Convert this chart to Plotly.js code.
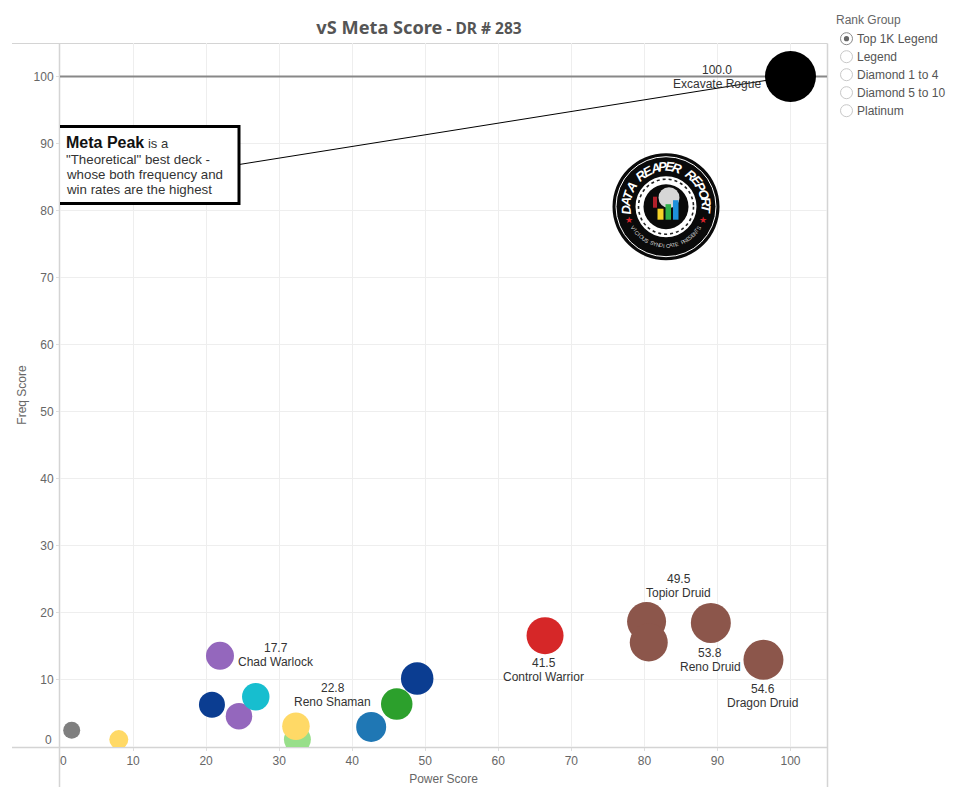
<!DOCTYPE html>
<html>
<head>
<meta charset="utf-8">
<script src="https://cdn.plot.ly/plotly-3.0.1.min.js"></script>
<style>html,body{margin:0;padding:0;background:#fff}#chart{width:959px;height:803px}</style>
</head>
<body>
<div id="chart"></div>
<script>
// ---- Data ----
const powerScore = [1.6, 8.05, 21.9, 20.8, 24.5, 26.8, 32.5, 32.3, 42.6, 46.1, 48.9, 66.4, 80.3, 80.6, 89.1, 96.3, 100];
const freqScore  = [2.5, 1.1, 13.6, 6.3, 4.6, 7.5, 1.1, 3.1, 3.0, 6.4, 10.2, 16.6, 18.7, 15.6, 18.5, 13.0, 100];
const bubbleSize = [17, 19, 28, 26, 26.5, 27.5, 27, 27.5, 30, 31.5, 32.5, 37, 39, 38, 40, 40, 51];
const bubbleColor = ['#7f7f7f','#ffd966','#9467bd','#0b3d91','#9467bd','#17becf','#98df8a','#ffd966','#1f77b4','#2ca02c','#0b3d91','#d62728','#8c564b','#8c564b','#8c564b','#8c564b','#000000'];
const peakLineX = [0, 105];
const peakLineY = [100, 100];
const labelIndex = [2, 7, 11, 12, 14, 15, 16];
const labelValue = ['17.7','22.8','41.5','49.5','53.8','54.6','100.0'];
const labelName  = ['Chad Warlock','Reno Shaman','Control Warrior','Topior Druid','Reno Druid','Dragon Druid','Excavate Rogue'];
const labelDx = [56.4, 37, -1.3, 32, -0.7, -0.6, -73];
const labelDy = [-0.6, -31, 34.7, -36, 36.7, 36.3, 0];
const tickValues = [10,20,30,40,50,60,70,80,90,100];
const rankGroups = ['Top 1K Legend','Legend','Diamond 1 to 4','Diamond 5 to 10','Platinum'];
const logoTop = 'DATA REAPER REPORT';
const logoBottom = 'VICIOUS SYNDICATE PRESENTS';

// ---- Layout helpers ----
const W = 959, H = 803;
const M = {l:60, r:132, t:43, b:56};
const PW = W - M.l - M.r, PH = H - M.t - M.b;
const px = x => (x - M.l) / PW;
const py = y => 1 - (y - M.t) / PH;
const FONT = '"Liberation Sans", Arial, sans-serif';
const annotations = [];
const shapes = [];

function pxText(x, y, text, size, color, opts) {
  annotations.push(Object.assign({
    xref:'paper', yref:'paper', x:px(x), y:py(y), text:text, showarrow:false,
    xanchor:'left', yanchor:'middle', borderpad:0,
    font:{family:FONT, size:size, color:color}
  }, opts || {}));
}
function pxLine(x0,y0,x1,y1,color,width,layer){
  shapes.push({type:'line',xref:'paper',yref:'paper',x0:px(x0),y0:py(y0),x1:px(x1),y1:py(y1),
    line:{color:color,width:width},layer:layer||'below'});
}
function pxCircle(cx,cy,r,fill,lineColor,lineWidth,dash){
  shapes.push({type:'circle',xref:'paper',yref:'paper',x0:px(cx-r),x1:px(cx+r),y0:py(cy+r),y1:py(cy-r),
    fillcolor:fill,line:{color:lineColor||fill,width:lineWidth===undefined?0:lineWidth,dash:dash||'solid'},layer:'above'});
}
function pxRect(x0,y0,x1,y1,fill){
  shapes.push({type:'rect',xref:'paper',yref:'paper',x0:px(x0),x1:px(x1),y0:py(y1),y1:py(y0),
    fillcolor:fill,line:{color:fill,width:0},layer:'above'});
}

// ---- Frame lines ----
pxLine(12, 43.5, 827.5, 43.5, '#d4d4d4', 1);
pxLine(12, 747.5, 827.5, 747.5, '#d4d4d4', 1.5);
pxLine(59.5, 43.5, 59.5, 787, '#d4d4d4', 1.5);
pxLine(827.5, 43.5, 827.5, 787, '#d4d4d4', 1.5);

// ---- Zero tick labels sit beside the axes ----
pxText(63, 761, '0', 12, '#666', {xanchor:'center'});
pxText(53, 740, '0', 12, '#666', {xanchor:'right'});

// ---- Leader from the callout to the peak ----
shapes.push({type:'line',xref:'paper',yref:'y',x0:px(240),x1:px(790.5),y0:86.9,y1:100,line:{color:'#000',width:1},layer:'above'});

// ---- Callout box ----
pxRect(60.5, 126.5, 239, 203.5, '#ffffff');
pxLine(60, 126.5, 240, 126.5, '#000', 3, 'above');
pxLine(60, 203.5, 240, 203.5, '#000', 3, 'above');
pxLine(239, 125, 239, 205, '#000', 3, 'above');
pxText(65, 142.5, '<b>Meta Peak</b><span style="font-size:13px;color:#333"> is a</span>', 16, '#111');
pxText(65, 159, '"Theoretical" best deck -', 13.3, '#333');
pxText(65, 174.5, 'whose both frequency and', 13.3, '#333');
pxText(65, 189.5, 'win rates are the highest', 13.3, '#333');

// ---- Deck labels ----
labelIndex.forEach((idx, i) => {
  [[labelValue[i], -7], [labelName[i], 7]].forEach(([t, off]) => {
    annotations.push({xref:'x',yref:'y',x:powerScore[idx],y:freqScore[idx],text:t,showarrow:false,
      xanchor:'center',yanchor:'middle',xshift:labelDx[i],yshift:-(labelDy[i]+off),
      font:{family:FONT,size:12,color:'#333'}});
  });
});

// ---- Rank group radio list ----
pxText(835, 20, 'Rank Group', 12, '#666');
rankGroups.forEach((g,i) => {
  const y = 38.7 + i * 18;
  pxCircle(846.5, y, 6, '#ffffff', i === 0 ? '#8a8a8a' : '#c8c8c8', 1);
  if (i === 0) pxCircle(846.5, y, 2.6, '#666666');
  pxText(856, y, g, 12, '#555');
});

// ---- Logo ----
const LX = 666, LY = 206.7;
pxCircle(LX, LY, 53.5, '#0a0a0a');
pxCircle(LX, LY, 50, '#0a0a0a', '#ffffff', 1);
pxCircle(LX, LY, 30.5, '#ffffff');
pxCircle(LX, LY, 27.5, '#ffffff', '#222222', 1.6, 'dot');
pxCircle(LX, LY, 22.5, '#0a0a0a');
pxCircle(LX+3, LY-9, 10.5, '#d6d6d6');
pxRect(LX-8.5, LY+2, LX-2.5, LY+13, '#f5d327');
pxRect(LX-0.5, LY-2.5, LX+5, LY+13, '#2fb14a');
pxRect(LX+7, LY-6.5, LX+12.5, LY+13, '#1e90dc');
pxRect(LX-13, LY-10, LX-9, LY+1, '#b3202a');
const topN = logoTop.length;
logoTop.split('').forEach((ch,i) => {
  if (ch === ' ') return;
  const a = -94 + 188 * i / (topN - 1);
  const r = a * Math.PI / 180;
  pxText(LX + 40*Math.sin(r), LY - 40*Math.cos(r), '<b><i>'+ch+'</i></b>', 13, '#ffffff',
    {xanchor:'center', textangle:a, font:{family:'"Liberation Sans Narrow","Liberation Sans",sans-serif',size:13,color:'#ffffff'}});
});
const botN = logoBottom.length;
logoBottom.split('').forEach((ch,i) => {
  if (ch === ' ') return;
  const a = -57 + 114 * i / (botN - 1);
  const r = a * Math.PI / 180;
  pxText(LX + 39*Math.sin(r), LY + 39*Math.cos(r), ch, 5.5, '#d0d0d0', {xanchor:'center', textangle:-a});
});
pxText(LX-36.7, LY+13.3, '★', 9, '#d8232a', {xanchor:'center'});
pxText(LX+36.7, LY+13.3, '★', 9, '#d8232a', {xanchor:'center'});

const layout = {
  width:W, height:H, autosize:false, showlegend:false,
  paper_bgcolor:'#fff', plot_bgcolor:'#fff',
  margin:M, hovermode:false,
  font:{family:FONT,size:12,color:'#666'},
  title:{
    text:'<b>vS Meta Score</b><span style="font-size:15.5px"><b> - DR # 283</b></span>',
    x:px(419), xanchor:'center', xref:'paper', y:1-28/H, yanchor:'middle',
    font:{family:'"Noto Sans", sans-serif',size:18.2,color:'#555'}
  },
  xaxis:{
    range:[0,105], tickvals:tickValues, ticktext:tickValues.map(String),
    showgrid:true, gridcolor:'#eeeeee', gridwidth:1, zeroline:false, showline:false,
    ticks:'outside', ticklen:3, tickcolor:'#dddddd',
    tickfont:{family:FONT,size:12,color:'#666'},
    title:{text:'Power Score',standoff:7,font:{family:FONT,size:12,color:'#666'}},
    fixedrange:true
  },
  yaxis:{
    range:[0,105], tickvals:tickValues, ticktext:tickValues.map(String),
    showgrid:true, gridcolor:'#eeeeee', gridwidth:1, zeroline:false, showline:false,
    ticks:'outside', ticklen:3, tickcolor:'#dddddd',
    tickfont:{family:FONT,size:12,color:'#666'},
    title:{text:'Freq Score',standoff:4,font:{family:FONT,size:12,color:'#666'}},
    fixedrange:true
  },
  shapes:shapes, annotations:annotations
};

const peakLine = {
  type:'scatter', mode:'lines', x:peakLineX, y:peakLineY,
  line:{color:'#888888',width:2}, hoverinfo:'skip'
};
const decks = {
  type:'scatter', mode:'markers', x:powerScore, y:freqScore,
  marker:{size:bubbleSize, sizemode:'diameter', color:bubbleColor, opacity:1, line:{width:0}},
  hoverinfo:'skip'
};
Plotly.newPlot('chart',[peakLine,decks],layout,{displayModeBar:false,staticPlot:true});
</script>
</body>
</html>
